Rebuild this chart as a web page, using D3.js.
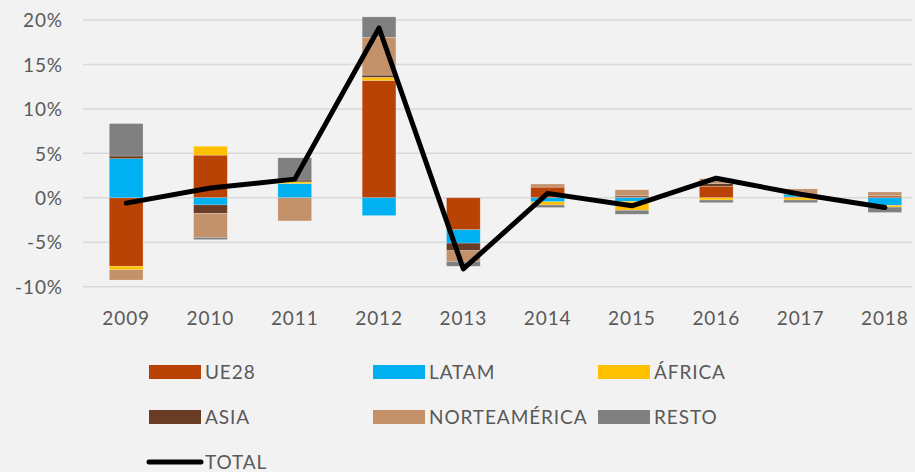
<!DOCTYPE html>
<html>
<head>
<meta charset="utf-8">
<script src="https://cdn.jsdelivr.net/npm/d3@7"></script>
<style>
  body { margin: 0; background: #f2f2f2; }
  svg text { font-family: Lato, "Open Sans", sans-serif; fill: #595959; letter-spacing: 0.9px; }
</style>
</head>
<body>
<svg id="chart" width="915" height="472"></svg>
<script>
// Data (percent change)
var years = ['2009', '2010', '2011', '2012', '2013', '2014', '2015', '2016', '2017', '2018'];
var ue28    = [-7.7, 4.8, 0, 13.2, -3.6, 1.2, 0.1, 1.3, 0.1, 0.2];
var latam   = [4.4, -0.8, 1.6, -2.0, -1.5, -0.45, -0.4, 0, 0.3, -0.85];
var africa  = [-0.4, 1.0, 0.2, 0.35, 0, -0.35, -1.0, -0.25, -0.25, -0.2];
var asia    = [0.3, -0.95, 0.2, 0.25, -0.85, 0, 0.15, 0.3, 0, 0.05];
var norteam = [-1.15, -2.7, -2.6, 4.25, -1.2, 0.35, 0.65, 0.55, 0.6, 0.4];
var resto   = [3.65, -0.25, 2.5, 2.3, -0.55, -0.3, -0.45, -0.3, -0.3, -0.6];
var total   = [-0.6, 1.1, 2.1, 19.1, -8.0, 0.5, -0.9, 2.2, 0.4, -1.1];
var yTicks  = [-10, -5, 0, 5, 10, 15, 20];

var seriesNames = ['UE28', 'LATAM', 'ÁFRICA', 'ASIA', 'NORTEAMÉRICA', 'RESTO'];
var seriesValues = [ue28, latam, africa, asia, norteam, resto];
var colors = ['#b94205', '#00b0f0', '#ffc000', '#683c25', '#c3916a', '#808080'];

var svg = d3.select('#chart');

// Scales
var xScale = d3.scaleBand().domain(years).range([84, 927]).paddingInner(0.6).paddingOuter(0.3);
var yScale = d3.scaleLinear().domain([-10, 20]).range([286.7, 20]);
var color = d3.scaleOrdinal().domain(seriesNames).range(colors);

// Build table for the stack
var rows = years.map(function(y, i) {
  var r = { year: y };
  seriesNames.forEach(function(s, j) { r[s] = seriesValues[j][i]; });
  return r;
});
var stacked = d3.stack().keys(seriesNames).offset(d3.stackOffsetDiverging)(rows);

// Gridlines
svg.append('g').selectAll('line')
  .data(yTicks)
  .enter().append('line')
  .attr('x1', 83).attr('x2', 912)
  .attr('y1', function(d) { return yScale(d); })
  .attr('y2', function(d) { return yScale(d); })
  .attr('stroke', '#d9d9d9')
  .attr('stroke-width', 1.5);

// Y axis labels
var yAxis = d3.axisLeft(yScale).tickValues(yTicks).tickSize(0).tickPadding(0)
  .tickFormat(function(d) { return d + '%'; });
svg.append('g')
  .attr('transform', 'translate(63,0)')
  .call(yAxis)
  .call(function(g) { g.select('.domain').remove(); })
  .selectAll('text')
  .style('font-size', '19px')
  .attr('dy', '0.35em');

// X axis labels
var xAxis = d3.axisBottom(xScale).tickSize(0).tickPadding(0);
svg.append('g')
  .attr('transform', 'translate(0,311)')
  .call(xAxis)
  .call(function(g) { g.select('.domain').remove(); })
  .selectAll('text')
  .style('font-size', '19px')
  .attr('dy', '0.71em');

// Stacked bars
svg.append('g').selectAll('g')
  .data(stacked)
  .enter().append('g')
  .attr('fill', function(d) { return color(d.key); })
  .selectAll('rect')
  .data(function(d) { return d; })
  .enter().append('rect')
  .attr('x', function(d) { return xScale(d.data.year); })
  .attr('width', xScale.bandwidth())
  .attr('y', function(d) { return yScale(Math.max(d[0], d[1])); })
  .attr('height', function(d) { return Math.abs(yScale(d[0]) - yScale(d[1])); })
  .attr('stroke', 'rgba(255,255,255,0.35)')
  .attr('stroke-width', 0.6);

// Total line
var line = d3.line()
  .x(function(d, i) { return xScale(years[i]) + xScale.bandwidth() / 2; })
  .y(function(d) { return yScale(d); });

svg.append('path')
  .datum(total)
  .attr('d', line)
  .attr('fill', 'none')
  .attr('stroke', '#000')
  .attr('stroke-width', 5)
  .attr('stroke-linejoin', 'round')
  .attr('stroke-linecap', 'round');

// Legend
var legendCols = [149, 373, 598];
var legendRows = [372, 417];
var legend = svg.append('g');
seriesNames.forEach(function(name, i) {
  var lx = legendCols[i % 3], ly = legendRows[Math.floor(i / 3)];
  legend.append('rect')
    .attr('x', lx).attr('y', ly - 7)
    .attr('width', 52).attr('height', 14)
    .attr('fill', color(name));
  legend.append('text')
    .attr('x', lx + 56).attr('y', ly)
    .attr('dy', '0.35em')
    .style('font-size', '19px')
    .text(name);
});
legend.append('line')
  .attr('x1', 149).attr('x2', 201)
  .attr('y1', 462).attr('y2', 462)
  .attr('stroke', '#000').attr('stroke-width', 5)
  .attr('stroke-linecap', 'round');
legend.append('text')
  .attr('x', 205).attr('y', 462)
  .attr('dy', '0.35em')
  .style('font-size', '19px')
  .text('TOTAL');
</script>
</body>
</html>
